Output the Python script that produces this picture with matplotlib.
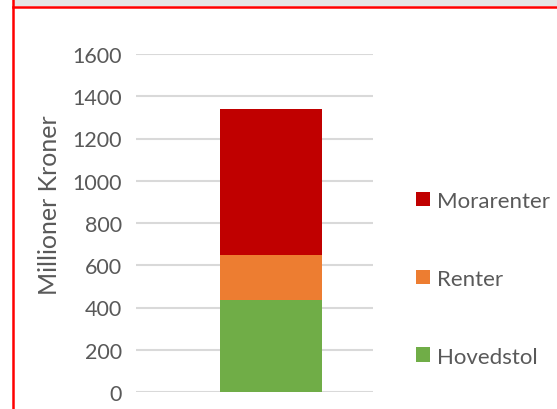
import matplotlib
matplotlib.use("Agg")
import matplotlib.pyplot as plt
from matplotlib.patches import Rectangle
from matplotlib.lines import Line2D

categories = [""]
series_names = ["Hovedstol", "Renter", "Morarenter"]
hovedstol = [435]
renter = [213]
morarenter = [692]
colors = ["#70ad47", "#ed7d31", "#c00000"]
yticks = [0, 200, 400, 600, 800, 1000, 1200, 1400, 1600]

W, H = 557, 410
fig = plt.figure(figsize=(W / 100, H / 100), dpi=100)
fig.patch.set_facecolor("white")
plt.rcParams["font.family"] = ["Lato", "DejaVu Sans"]
txt = "#595959"

# frame decorations
fig.patches.append(Rectangle((14 / W, 1 - 7 / H), 1, 7 / H, transform=fig.transFigure,
                             facecolor="#e6e6e6", edgecolor="none", zorder=0))
fig.lines.append(Line2D([13 / W, 13 / W], [0, 1], transform=fig.transFigure,
                        color="#ff0000", lw=1.8))
fig.lines.append(Line2D([13 / W, 1], [1 - 8 / H, 1 - 8 / H], transform=fig.transFigure,
                        color="#ff0000", lw=1.8))

left, right = 136 / W, 373 / W
bottom, top = (H - 393) / H, (H - 55) / H
ax = fig.add_axes([left, bottom, right - left, top - bottom])
ax.set_facecolor("none")

x = [0]
series = [hovedstol, renter, morarenter]
bars = []
b = [0] * len(x)
for name, vals, c in zip(series_names, series, colors):
    bars.append(ax.bar(x, vals, width=1.0, bottom=b, color=c, label=name, zorder=3))
    b = [bb + v for bb, v in zip(b, vals)]

ax.set_xlim(-1.3235, 1.0)
ax.set_ylim(0, 1600)
ax.set_yticks(yticks)
ax.set_yticklabels([str(t) for t in yticks], fontsize=15.5, color=txt)
ax.set_xticks([])
ax.tick_params(axis="y", length=0, pad=10)
ax.grid(axis="y", color="#d9d9d9", lw=1.5, zorder=0)
for s in ax.spines.values():
    s.set_visible(False)
ax.set_axisbelow(True)

fig.text(50 / W, 1 - 205 / H, "Millioner Kroner", rotation=90, ha="center", va="center",
         fontsize=18, color=txt)

handles = [bars[2], bars[1], bars[0]]
labels = [series_names[2], series_names[1], series_names[0]]
leg = fig.legend(handles, labels, loc="upper left", bbox_to_anchor=(416 / W, 1 - 192 / H),
                 frameon=False, fontsize=16, labelcolor=txt, handlelength=0.63,
                 handleheight=0.63, handletextpad=0.3, labelspacing=2.6, borderpad=0,
                 borderaxespad=0)

fig.savefig("out.png", dpi=100)
